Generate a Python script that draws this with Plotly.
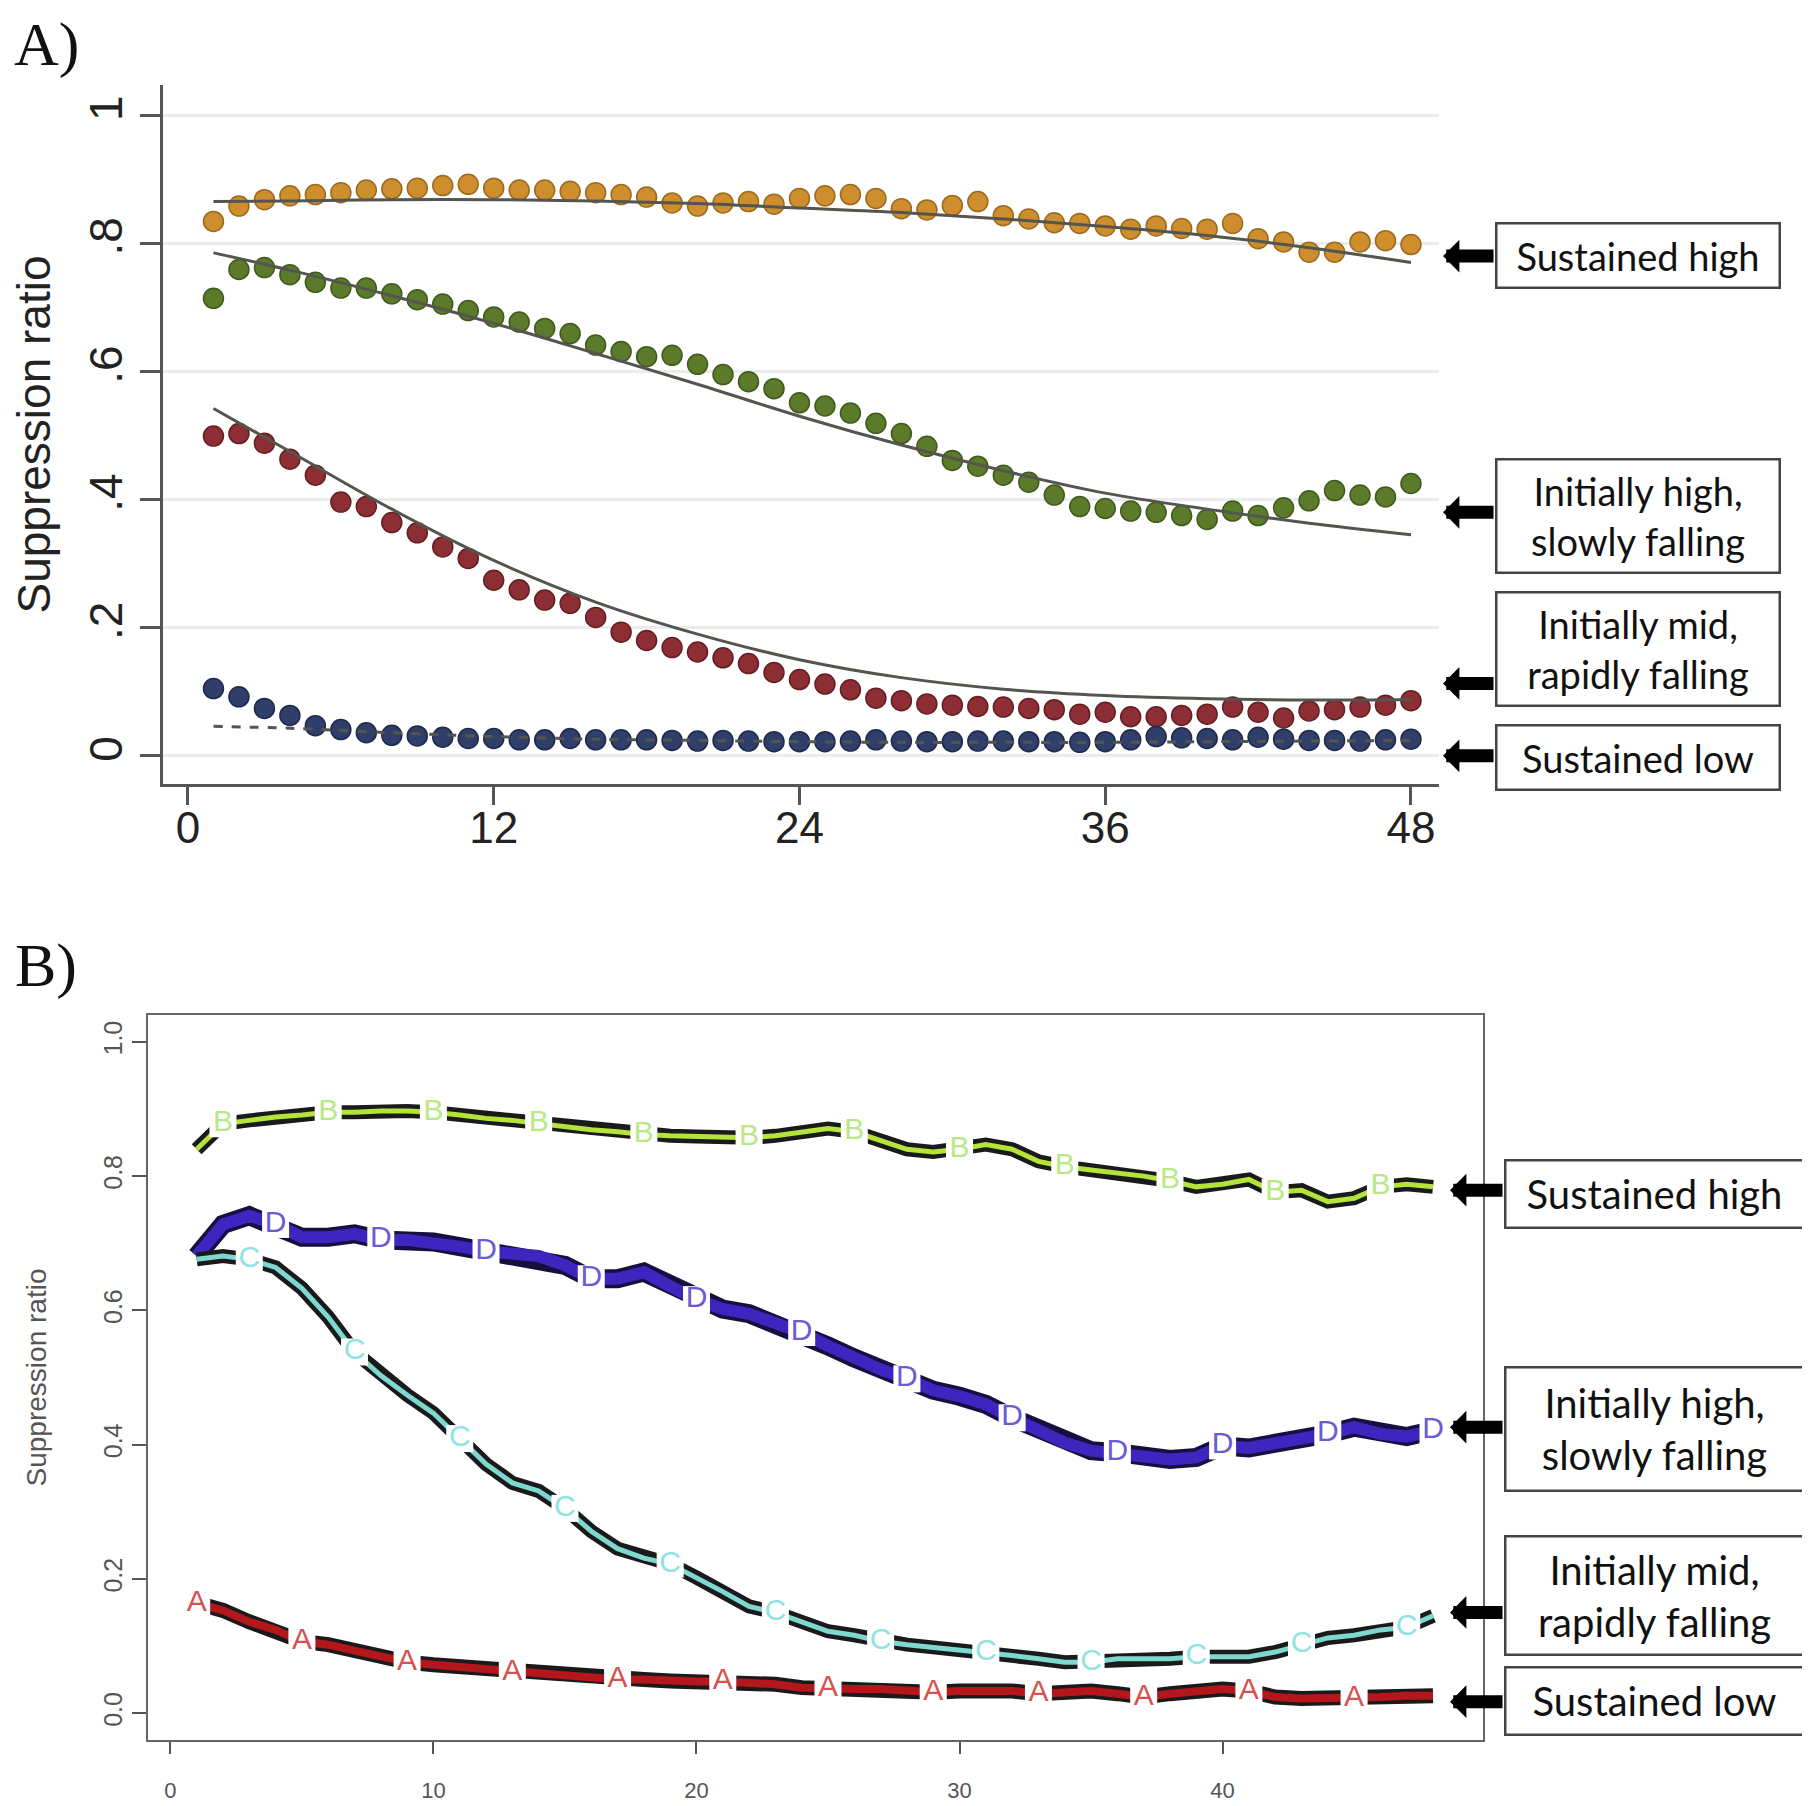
import plotly.graph_objects as go

W, H = 1810, 1806

months = list(range(1, 49))

# ---- Panel A: observed mean suppression ratio by month (dots) ----
a_sus_high = [0.834, 0.858, 0.868, 0.874, 0.876, 0.879, 0.883, 0.885, 0.886, 0.890,
              0.892, 0.886, 0.883, 0.883, 0.881, 0.879, 0.876, 0.872, 0.863, 0.858,
              0.863, 0.865, 0.861, 0.870, 0.874, 0.876, 0.870, 0.854, 0.852, 0.859,
              0.865, 0.843, 0.838, 0.832, 0.831, 0.827, 0.822, 0.827, 0.823, 0.822,
              0.831, 0.807, 0.802, 0.786, 0.786, 0.802, 0.804, 0.798]
a_high_slow = [0.714, 0.759, 0.762, 0.751, 0.739, 0.730, 0.730, 0.721, 0.712, 0.705,
               0.695, 0.685, 0.677, 0.667, 0.659, 0.641, 0.631, 0.623, 0.625, 0.611,
               0.595, 0.584, 0.573, 0.551, 0.546, 0.535, 0.519, 0.503, 0.483, 0.461,
               0.452, 0.438, 0.427, 0.407, 0.389, 0.386, 0.382, 0.380, 0.375, 0.369,
               0.382, 0.375, 0.387, 0.398, 0.414, 0.407, 0.404, 0.425]
a_mid_rapid = [0.499, 0.503, 0.488, 0.463, 0.438, 0.396, 0.389, 0.364, 0.348, 0.326,
               0.308, 0.274, 0.259, 0.243, 0.238, 0.216, 0.193, 0.180, 0.169, 0.162,
               0.153, 0.144, 0.130, 0.119, 0.112, 0.103, 0.090, 0.086, 0.081, 0.079,
               0.077, 0.076, 0.074, 0.072, 0.065, 0.068, 0.061, 0.061, 0.063, 0.065,
               0.076, 0.068, 0.059, 0.070, 0.072, 0.076, 0.079, 0.086]
a_sus_low = [0.105, 0.092, 0.074, 0.063, 0.047, 0.041, 0.036, 0.032, 0.031, 0.029,
             0.027, 0.027, 0.025, 0.025, 0.027, 0.025, 0.025, 0.025, 0.024, 0.023,
             0.024, 0.023, 0.022, 0.022, 0.022, 0.023, 0.025, 0.023, 0.022, 0.022,
             0.023, 0.023, 0.022, 0.022, 0.021, 0.022, 0.025, 0.030, 0.028, 0.027,
             0.025, 0.029, 0.026, 0.024, 0.024, 0.023, 0.025, 0.026]

# ---- Panel A: fitted trajectories ----
fit_months = [1, 4, 8, 12, 16, 20, 24, 28, 32, 36, 40, 44, 48]
fit_sus_high = [0.865, 0.866, 0.868, 0.868, 0.866, 0.862, 0.855, 0.848, 0.838, 0.826, 0.812, 0.793, 0.770]
fit_high_slow = [0.785, 0.758, 0.718, 0.675, 0.628, 0.580, 0.530, 0.485, 0.445, 0.410, 0.385, 0.363, 0.345]
fit_mid_rapid = [0.542, 0.475, 0.385, 0.305, 0.240, 0.190, 0.150, 0.122, 0.104, 0.094, 0.089, 0.087, 0.088]
fit_sus_low = [0.046, 0.043, 0.036, 0.030, 0.026, 0.024, 0.022, 0.021, 0.021, 0.021, 0.022, 0.023, 0.024]

# ---- Panel B: class mean trajectories ----
b_sus_high = [0.840, 0.878, 0.883, 0.888, 0.891, 0.895, 0.895, 0.897, 0.897, 0.895,
              0.891, 0.886, 0.883, 0.878, 0.874, 0.869, 0.866, 0.862, 0.860, 0.859,
              0.857, 0.857, 0.860, 0.866, 0.871, 0.866, 0.852, 0.840, 0.836, 0.840,
              0.847, 0.840, 0.822, 0.814, 0.809, 0.805, 0.800, 0.793, 0.784, 0.788,
              0.795, 0.776, 0.779, 0.762, 0.767, 0.784, 0.788, 0.784]
b_high_slow = [0.681, 0.728, 0.741, 0.728, 0.709, 0.709, 0.714, 0.705, 0.705, 0.702,
               0.695, 0.688, 0.684, 0.681, 0.667, 0.647, 0.647, 0.657, 0.636, 0.616,
               0.602, 0.595, 0.581, 0.567, 0.547, 0.529, 0.512, 0.498, 0.481, 0.472,
               0.460, 0.440, 0.422, 0.403, 0.391, 0.388, 0.383, 0.378, 0.381, 0.398,
               0.395, 0.400, 0.409, 0.416, 0.426, 0.416, 0.412, 0.421]
b_mid_rapid = [0.676, 0.681, 0.676, 0.664, 0.633, 0.590, 0.538, 0.503, 0.474, 0.447,
               0.409, 0.371, 0.343, 0.331, 0.305, 0.271, 0.245, 0.231, 0.222, 0.202,
               0.181, 0.159, 0.150, 0.136, 0.122, 0.116, 0.107, 0.102, 0.098, 0.095,
               0.090, 0.086, 0.081, 0.076, 0.076, 0.081, 0.081, 0.081, 0.084, 0.084,
               0.084, 0.091, 0.102, 0.112, 0.116, 0.124, 0.128, 0.145]
b_sus_low = [0.164, 0.153, 0.136, 0.124, 0.107, 0.102, 0.093, 0.084, 0.076, 0.072,
             0.069, 0.064, 0.060, 0.059, 0.055, 0.052, 0.050, 0.050, 0.048, 0.047,
             0.047, 0.045, 0.043, 0.038, 0.036, 0.036, 0.036, 0.033, 0.031, 0.033,
             0.034, 0.033, 0.029, 0.031, 0.033, 0.029, 0.024, 0.029, 0.033, 0.036,
             0.033, 0.024, 0.022, 0.022, 0.022, 0.024, 0.026, 0.026]

group_labels = ["Sustained high", "Initially high,<br>slowly falling",
                "Initially mid,<br>rapidly falling", "Sustained low"]

a_yticks = [0, 0.2, 0.4, 0.6, 0.8, 1]
a_yticktext = ["0", ".2", ".4", ".6", ".8", "1"]
a_xticks = [0, 12, 24, 36, 48]
b_yticks = [0, 0.2, 0.4, 0.6, 0.8, 1.0]
b_yticktext = ["0.0", "0.2", "0.4", "0.6", "0.8", "1.0"]
b_xticks = [0, 10, 20, 30, 40]


def px(x):
    return x / W


def py(y):
    return 1 - y / H


fig = go.Figure()

# panel A dots + fits
a_series = [
    (a_sus_high, fit_sus_high, "#CE8E2E", "#9a6a1e", "solid"),
    (a_high_slow, fit_high_slow, "#5B7A2A", "#3f5a1c", "solid"),
    (a_mid_rapid, fit_mid_rapid, "#8C2E33", "#641e22", "solid"),
    (a_sus_low, fit_sus_low, "#2F3F6A", "#1e2a4c", "dash"),
]
for vals, fit, col, edge, dash in a_series:
    fig.add_trace(go.Scatter(x=months, y=vals, mode="markers", xaxis="x", yaxis="y",
                             marker=dict(size=20, color=col, line=dict(color=edge, width=1.5))))
for vals, fit, col, edge, dash in a_series:
    fig.add_trace(go.Scatter(x=fit_months, y=fit, mode="lines", xaxis="x", yaxis="y",
                             line=dict(color="#55554f", width=3, shape="spline", dash=dash)))

# panel B lines with letter markers
b_series = [
    (b_sus_high, "B", 2, "#1a1a1a", 14, "#B4E33A", 5, "#B8E986"),
    (b_high_slow, "D", 4, "#161040", 19, "#3F25C0", 12, "#6B5BD6"),
    (b_mid_rapid, "C", 3, "#1a1a1a", 14, "#7FD8D0", 5, "#8FE3E3"),
    (b_sus_low, "A", 1, "#1a1a1a", 15, "#B3161B", 8, "#D85050"),
]
for vals, letter, start, oc, ow, ic, iw, lc in b_series:
    fig.add_trace(go.Scatter(x=months, y=vals, mode="lines", xaxis="x2", yaxis="y2",
                             line=dict(color=oc, width=ow)))
    fig.add_trace(go.Scatter(x=months, y=vals, mode="lines", xaxis="x2", yaxis="y2",
                             line=dict(color=ic, width=iw)))
for vals, letter, start, oc, ow, ic, iw, lc in b_series:
    lm = list(range(start, 49, 4))
    fig.add_trace(go.Scatter(x=lm, y=[vals[m - 1] for m in lm], mode="markers+text",
                             xaxis="x2", yaxis="y2", text=[letter] * len(lm),
                             textposition="middle center",
                             textfont=dict(family="Liberation Sans", size=30, color=lc),
                             marker=dict(symbol="square", size=27, color="white")))

fig.update_layout(
    width=W, height=H, margin=dict(l=0, r=0, t=0, b=0),
    paper_bgcolor="white", plot_bgcolor="white", showlegend=False,
    xaxis=dict(domain=[px(155), px(1431)], range=[-0.98, 49.1], anchor="y",
               tickvals=a_xticks, ticks="outside", ticklen=18, tickwidth=2.5, tickcolor="#555",
               showline=True, linecolor="#555", linewidth=3, showgrid=False, zeroline=False,
               tickfont=dict(family="Liberation Sans", size=44, color="#222"),
               ticklabelstandoff=-15, automargin=False),
    yaxis=dict(domain=[py(776), py(77)], range=[-0.044, 1.047], anchor="x",
               tickvals=a_yticks, ticktext=a_yticktext, tickangle=-90,
               ticks="outside", ticklen=20, tickwidth=2.5, tickcolor="#555",
               showline=True, linecolor="#555", linewidth=3,
               showgrid=True, gridcolor="#ECECEC", gridwidth=3, zeroline=False,
               tickfont=dict(family="Liberation Sans", size=46, color="#222"),
               title=dict(text="Suppression ratio", standoff=20,
                          font=dict(family="Liberation Sans", size=46, color="#222")),
               automargin=False),
    xaxis2=dict(domain=[px(140), px(1475)], range=[-0.85, 49.9], anchor="y2",
                tickvals=b_xticks, ticks="outside", ticklen=12, tickwidth=1.5, tickcolor="#555",
                showline=True, mirror=True, linecolor="#666", linewidth=2,
                showgrid=False, zeroline=False, ticklabelstandoff=18,
                tickfont=dict(family="Liberation Sans", size=22, color="#555"), automargin=False),
    yaxis2=dict(domain=[py(1732), py(1007)], range=[-0.04, 1.04], anchor="x2",
                tickvals=b_yticks, ticktext=b_yticktext, tickangle=-90,
                ticks="outside", ticklen=14, tickwidth=1.5, tickcolor="#555",
                showline=True, mirror=True, linecolor="#666", linewidth=2,
                showgrid=False, zeroline=False,
                tickfont=dict(family="Liberation Sans", size=25, color="#555"),
                title=dict(text="Suppression ratio", standoff=44,
                           font=dict(family="Liberation Sans", size=28, color="#555")),
                automargin=False),
)

# panel letters
fig.add_annotation(text="A)", x=px(38), y=py(36), xref="paper", yref="paper", showarrow=False,
                   xanchor="center", yanchor="middle",
                   font=dict(family="Liberation Serif", size=62, color="#111"))
fig.add_annotation(text="B)", x=px(38), y=py(958), xref="paper", yref="paper", showarrow=False,
                   xanchor="center", yanchor="middle",
                   font=dict(family="Liberation Serif", size=62, color="#111"))

# label boxes and arrows
a_box_y = [248, 508, 641, 749]
a_box_h = [66, 115, 115, 66]
a_arrow_y = [0.78, 0.380, 0.113, 0.0]
b_box_y = [1186, 1421, 1587, 1693]
b_box_h = [69, 125, 120, 69]
b_arrow_y = [0.779, 0.426, 0.150, 0.017]

for lab, by, bh, ay in zip(group_labels, a_box_y, a_box_h, a_arrow_y):
    fig.add_annotation(text=lab, x=px(1629.5), y=py(by), xref="paper", yref="paper",
                       xanchor="center", yanchor="middle", showarrow=False,
                       width=281, height=bh - 4, borderpad=0, bordercolor="#444", borderwidth=2.5,
                       bgcolor="white", font=dict(family="Lato", size=38, color="#111"))
    fig.add_annotation(text="", x=px(1435), y=ay, xref="paper", yref="y", showarrow=True,
                       ax=52, ay=0, arrowhead=1, arrowsize=0.42, arrowwidth=13, arrowcolor="black")

for lab, by, bh, ay in zip(group_labels, b_box_y, b_box_h, b_arrow_y):
    fig.add_annotation(text=lab, x=px(1646), y=py(by), xref="paper", yref="paper",
                       xanchor="center", yanchor="middle", showarrow=False,
                       width=296, height=bh - 4, borderpad=0, bordercolor="#444", borderwidth=2.5,
                       bgcolor="white", font=dict(family="Lato", size=40, color="#111"))
    fig.add_annotation(text="", x=px(1442), y=ay, xref="paper", yref="y2", showarrow=True,
                       ax=54, ay=0, arrowhead=1, arrowsize=0.42, arrowwidth=13, arrowcolor="black")

fig.write_html("out.html")
